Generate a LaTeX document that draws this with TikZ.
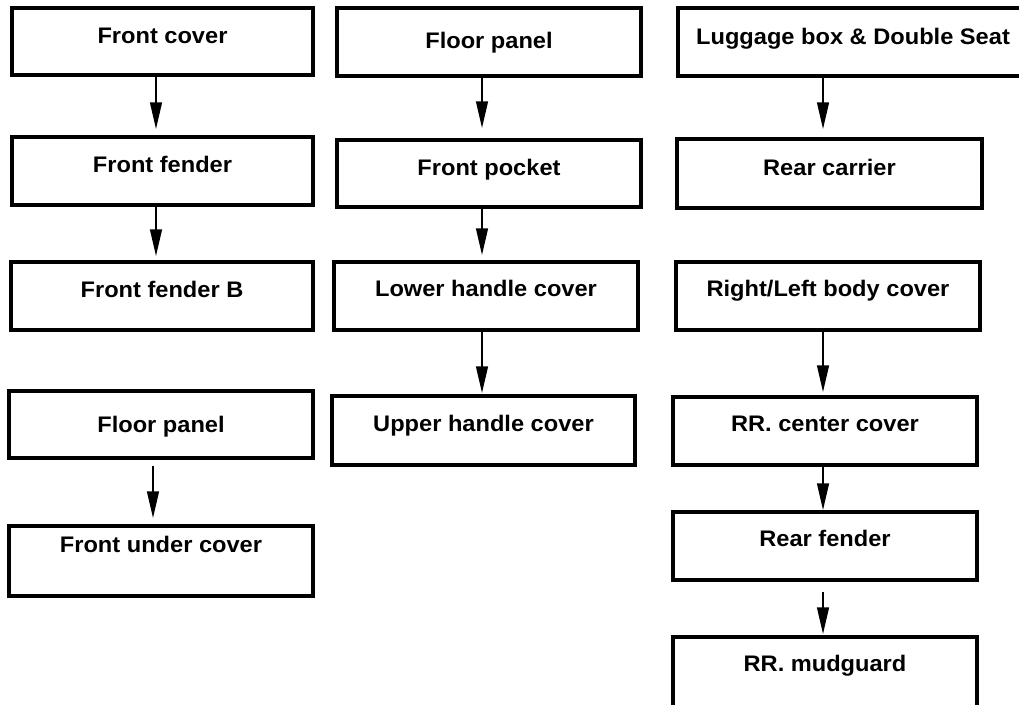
\documentclass[tikz,border=0pt]{standalone}
\usepackage{fontspec}
\setmainfont{Liberation Sans}[FakeStretch=1.05]
\usetikzlibrary{arrows.meta,calc}
\tikzset{
  partbox/.style={draw=black, line width=3.2pt, fill=white, inner sep=0pt},
  partlbl/.style={anchor=base, inner sep=0pt, font=\fontsize{22.5}{27}\selectfont\bfseries},
  flowarrow/.style={draw=black, line width=2.8pt, -{Triangle[length=27pt,width=11.5pt]}}
}
\newcommand{\partnode}[7]{%
  % #1 name, #2 x1, #3 y1, #4 x2, #5 y2, #6 baseline, #7 text
  \node[partbox, minimum width={(#4-#2)*1pt}, minimum height={(#5-#3)*1pt}] (#1) at ({(#2+#4)/2},{(#3+#5)/2}) {};
  \node[partlbl] (#1t) at ({(#2+#4)/2},#6) {#7};
}
\begin{document}
\begin{tikzpicture}[x=1pt,y=-1pt]
\clip (0,0) rectangle (1019,704);
\fill[white] (0,0) rectangle (1019,704);
% column 1
\partnode{a1}{12}{8}{313}{75}{43.5}{Front cover}
\partnode{a2}{12}{137}{313}{205}{172.5}{Front fender}
\partnode{a3}{11}{262}{313}{330}{297}{Front fender B}
\partnode{a4}{9}{391}{313}{458}{432}{Floor panel}
\partnode{a5}{9}{526}{313}{596}{552}{Front under cover}
% column 2
\partnode{b1}{337}{8}{641}{76}{48}{Floor panel}
\partnode{b2}{337}{140}{641}{207}{175}{Front pocket}
\partnode{b3}{334}{262}{638}{330}{296.5}{Lower handle cover}
\partnode{b4}{332}{396}{635}{465}{431}{Upper handle cover}
% column 3
\partnode{c1}{678}{8}{1028}{76}{44}{Luggage box \& Double Seat}
\partnode{c2}{677}{139}{982}{208}{175}{Rear carrier}
\partnode{c3}{676}{262}{980}{330}{296.5}{Right/Left body cover}
\partnode{c4}{673}{397}{977}{465}{431}{RR. center cover}
\partnode{c5}{673}{512}{977}{580}{546}{Rear fender}
\partnode{c6}{673}{637}{977}{712}{671.5}{RR. mudguard}
% arrow columns
\coordinate (xa) at (156,0);
\coordinate (xa2) at (153,0);
\coordinate (xb) at (482,0);
\coordinate (xc) at (823,0);
% arrows
\draw[flowarrow, shorten >=6pt] (a1.south -| xa) -- (a2.north -| xa);
\draw[flowarrow, shorten >=4pt] (a2.south -| xa) -- (a3.north -| xa);
\draw[flowarrow, shorten <=6pt, shorten >=6pt] (a4.south -| xa2) -- (a5.north -| xa2);
\draw[flowarrow, shorten >=10pt] (b1.south -| xb) -- (b2.north -| xb);
\draw[flowarrow, shorten >=5pt] (b2.south -| xb) -- (b3.north -| xb);
\draw[flowarrow, shorten >=1pt] (b3.south -| xb) -- (b4.north -| xb);
\draw[flowarrow, shorten >=8pt] (c1.south -| xc) -- (c2.north -| xc);
\draw[flowarrow, shorten >=3pt] (c3.south -| xc) -- (c4.north -| xc);
\draw[flowarrow] (c4.south -| xc) -- (c5.north -| xc);
\draw[flowarrow, shorten <=10pt, shorten >=1pt] (c5.south -| xc) -- (c6.north -| xc);
\end{tikzpicture}
\end{document}
